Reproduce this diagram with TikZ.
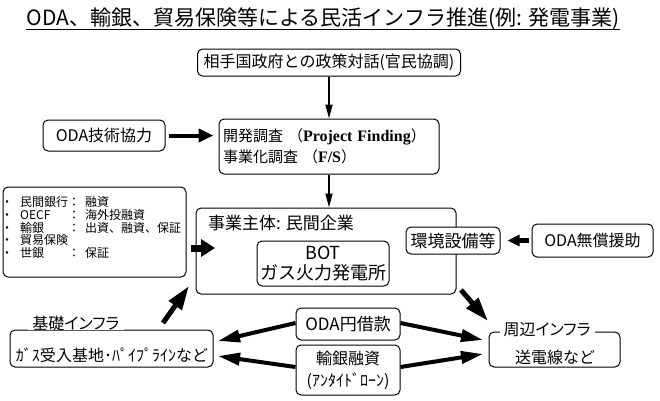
\documentclass[tikz,border=0pt]{standalone}
\usepackage{fontspec}
\setmainfont{Noto Sans CJK JP}
\newfontfamily\cjkp{Noto Sans CJK JP}[RawFeature=+palt]
\newfontfamily\tnr{Liberation Serif}
\usetikzlibrary{arrows.meta}
\newcommand\fsz[2]{\fontsize{#1}{#2}\selectfont}
\newcommand\lrow[3]{\makebox[19pt][l]{・}\makebox[48pt][l]{#1}\makebox[17pt][l]{#2}#3}
\begin{document}
\begin{tikzpicture}[x=1pt,y=-1pt,
  box/.style={draw, line width=1pt, rounded corners=5pt, fill=white, inner sep=0pt, align=center},
  plain/.style={inner sep=0pt, align=center},
  athin/.style={line width=1.8pt, -{Triangle[length=14pt,width=7pt]}},
  athick/.style={line width=4pt, -{Triangle[length=15pt,width=13pt]}},
  afat/.style={line width=7pt, -{Triangle[length=14pt,width=17pt]}},
  amid/.style={line width=4.5pt, -{Triangle[length=12pt,width=11pt]}},
  adiag/.style={line width=5pt, -{Triangle[length=24pt,width=15pt]}},
  ahor/.style={line width=4pt, -{Triangle[length=22pt,width=12pt]}},
  lbl/.style={fill=white, inner xsep=4pt, inner ysep=0pt, font=\cjkp\fsz{16}{19}}
]
\useasboundingbox (0,0) rectangle (660,400);

% title
\node[plain, anchor=base, font=\fsz{21}{25}] (title) at (323,25) {ODA、輸銀、貿易保険等による民活インフラ推進(例: 発電事業)};
\draw[line width=1pt] ([yshift=-4pt]title.base west) -- ([yshift=-4pt]title.base east);

% top boxes
\node[box, minimum width=263pt, minimum height=27pt, font=\fsz{16}{19}] (b1) at (329,62.5) {相手国政府との政策対話(官民協調)};
\node[box, align=left, text width=212pt, inner xsep=4pt, minimum height=55pt, font=\fsz{15}{21}] (b2) at (329,146.5)
  {開発調査 （{\tnr\bfseries\fontsize{16}{21}\selectfont Project Finding}）\\事業化調査 （{\tnr\bfseries\fontsize{16}{21}\selectfont F/S}）};
\node[box, minimum width=122pt, minimum height=31pt, font=\fsz{16}{19}] (oda1) at (104,135.5) {ODA技術協力};

% main box
\node[box, minimum width=260pt, minimum height=86pt] (main) at (326,251) {};
\node[plain, anchor=west, font=\fsz{17}{20}] (mainlbl) at (208,223) {事業主体: 民間企業};
\node[box, minimum width=132pt, minimum height=45pt, font=\fsz{18}{20}] (bot) at (323,263.5) {BOT\\ガス火力発電所};
\node[box, minimum width=94pt, minimum height=27pt, font=\fsz{17}{20}] (env) at (453,240.5) {環境設備等};
\node[box, minimum width=121pt, minimum height=33pt, font=\fsz{16}{19}] (oda2) at (592.5,240.5) {ODA無償援助};

% list box
\node[box, minimum width=183pt, minimum height=90pt] (list) at (94.5,232) {};
\node[plain, anchor=west, align=left, font=\fsz{12}{12.6}] (listtxt) at (1,227.5) {%
\lrow{民間銀行}{：}{融資}\\
\lrow{OECF}{：}{海外投融資}\\
\lrow{輸銀}{：}{出資、融資、保証}\\
\lrow{貿易保険}{}{}\\
\lrow{世銀}{：}{保証}};

% bottom boxes
\node[box, minimum width=203pt, minimum height=37pt] (kiso) at (111.5,348.5) {};
\node[lbl] (kisolbl) at (76,323) {基礎インフラ};
\node[plain, font=\fsz{16}{19}] (kisotxt) at (112,355) {ｶﾞｽ受入基地･ﾊﾟｲﾌﾟﾗｲﾝなど};

\node[box, minimum width=131pt, minimum height=35pt] (shu) at (554.5,349.5) {};
\node[lbl] (shulbl) at (547,329.5) {周辺インフラ};
\node[plain, font=\fsz{16}{19}] (shutxt) at (555,357) {送電線など};

\node[box, minimum width=104pt, minimum height=32pt, font=\fsz{17}{20}] (en) at (348,324) {ODA円借款};
\node[box, minimum width=104pt, minimum height=50pt, font=\fsz{16}{22}] (yugin) at (348,370) {輸銀融資\\(ｱﾝﾀｲﾄﾞﾛｰﾝ)};

% connector end points
\coordinate (la) at (215,248);
\coordinate (k1) at (163,323);
\coordinate (k2) at (189,286);
\coordinate (s1) at (461,290);
\coordinate (s2) at (488,321);
\coordinate (kr1) at (218,341);
\coordinate (kr2) at (218,356);
\coordinate (sr1) at (483,340);
\coordinate (sr2) at (483,354);

% arrows
\draw[athin] (b1.south -| b2.north) -- (b2.north);
\draw[athin] (b2.south) -- (b2.south |- main.north);
\draw[athick, shorten <=3pt, shorten >=5pt] (oda1.east) -- (oda1.east -| b2.west);
\draw[afat, shorten <=4pt] (list.east |- la) -- (la);
\draw[amid, shorten <=3pt, shorten >=7pt] (oda2.west) -- (env.east);
\draw[adiag] (k1) -- (k2);
\draw[adiag] (s1) -- (s2);
\draw[ahor] ([yshift=1pt]en.west) -- (kr1);
\draw[ahor] ([yshift=3pt]yugin.west) -- (kr2);
\draw[ahor] ([yshift=1pt]en.east) -- (sr1);
\draw[ahor] ([yshift=3pt]yugin.east) -- (sr2);
\end{tikzpicture}
\end{document}
